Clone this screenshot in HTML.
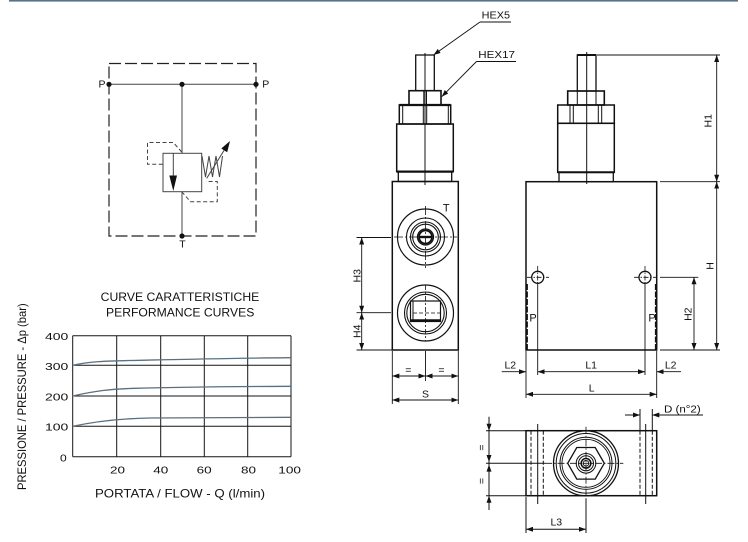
<!DOCTYPE html>
<html><head><meta charset="utf-8"><style>
html,body{margin:0;padding:0;background:#fff;}
svg{display:block;}
text{font-family:"Liberation Sans",sans-serif;fill:#111;}
</style></head><body>
<svg width="748" height="542" viewBox="0 0 748 542" xmlns="http://www.w3.org/2000/svg">
<defs>
<marker id="ar" viewBox="0 0 7 5" refX="7" refY="2.5" markerWidth="7" markerHeight="5" markerUnits="userSpaceOnUse" orient="auto-start-reverse"><path d="M0,0 L7,2.5 L0,5 z" fill="#111"/></marker>
</defs>
<rect x="9" y="0" width="729" height="1.6" fill="#5d7185"/>

<!-- Hydraulic symbol -->
<path d="M109,63.5 H256 V236 H109 Z" fill="none" stroke="#222" stroke-width="1.2" stroke-dasharray="12 4"/>
<g stroke="#444" stroke-width="1" fill="none">
<line x1="109" y1="84.3" x2="256" y2="84.3"/>
<line x1="182" y1="84.3" x2="182" y2="153.3"/>
<line x1="182" y1="191.7" x2="182" y2="236"/>
<rect x="163" y="153.3" width="38.7" height="38.4"/>
<line x1="173.3" y1="153.3" x2="173.3" y2="177"/>
<path d="M181.7,152 L173.3,142.5 H147.5 V164.3 H163" stroke-dasharray="4 2.5"/>
<path d="M181.7,191.7 L190.5,201.7 H217.3 V181.5 H206" stroke-dasharray="4 2.5"/>
<path d="M202,156 L205.5,177 L209,156 L212.5,177 L216,156 L219.5,177 L222.5,156"/>
<line x1="206.7" y1="178.3" x2="224.3" y2="150"/>
</g>
<polygon points="169.3,175.5 177,175.5 173.3,191" fill="#111"/>
<polygon points="230,141 227.2,152.3 221.3,148.5" fill="#111"/>
<g fill="#111">
<circle cx="109" cy="84.3" r="2.6"/><circle cx="182" cy="84.3" r="2.6"/><circle cx="256" cy="84.3" r="2.6"/><circle cx="182" cy="236" r="2.6"/>
</g>
<text x="102" y="87.5" font-size="10.5" text-anchor="middle">P</text>
<text x="265.7" y="87.5" font-size="10.5" text-anchor="middle">P</text>
<text x="182.5" y="247.5" font-size="10.5" text-anchor="middle">T</text>

<!-- Chart -->
<text x="100.7" y="301" font-size="12" textLength="158.6" lengthAdjust="spacingAndGlyphs">CURVE CARATTERISTICHE</text>
<text x="106" y="316.3" font-size="12" textLength="148.3" lengthAdjust="spacingAndGlyphs">PERFORMANCE CURVES</text>
<g stroke="#151515" stroke-width="1">
<line x1="72.7" y1="335.7" x2="72.7" y2="456.7"/>
<line x1="116.7" y1="335.7" x2="116.7" y2="456.7"/>
<line x1="160.7" y1="335.7" x2="160.7" y2="456.7"/>
<line x1="204.3" y1="335.7" x2="204.3" y2="456.7"/>
<line x1="247.7" y1="335.7" x2="247.7" y2="456.7"/>
<line x1="291" y1="335.7" x2="291" y2="456.7"/>
<line x1="72.7" y1="335.7" x2="291" y2="335.7"/>
<line x1="72.7" y1="365.3" x2="291" y2="365.3"/>
<line x1="72.7" y1="396" x2="291" y2="396"/>
<line x1="72.7" y1="426.3" x2="291" y2="426.3"/>
<line x1="72.7" y1="456.7" x2="291" y2="456.7"/>
</g>
<g stroke="#5a7080" stroke-width="1.3" fill="none">
<path d="M72.7,365.3 C90,361.5 105,361 130,360.5 S220,358.3 291,357.7"/>
<path d="M72.7,396 C95,391 110,389 135,388.3 S200,386.7 291,386.3"/>
<path d="M72.7,426.3 C95,421.5 120,418.5 150,418 S230,417.5 291,417.3"/>
</g>
<g font-size="10.5">
<text x="45" y="340" textLength="23.3" lengthAdjust="spacingAndGlyphs">400</text>
<text x="45" y="370" textLength="23.3" lengthAdjust="spacingAndGlyphs">300</text>
<text x="45" y="400.7" textLength="23.3" lengthAdjust="spacingAndGlyphs">200</text>
<text x="45" y="430.7" textLength="23.3" lengthAdjust="spacingAndGlyphs">100</text>
<text x="60" y="461.7" textLength="6.7" lengthAdjust="spacingAndGlyphs">0</text>
<text x="110" y="473.3" textLength="15" lengthAdjust="spacingAndGlyphs">20</text>
<text x="153.3" y="473.3" textLength="15" lengthAdjust="spacingAndGlyphs">40</text>
<text x="196.7" y="473.3" textLength="15" lengthAdjust="spacingAndGlyphs">60</text>
<text x="241" y="473.3" textLength="15" lengthAdjust="spacingAndGlyphs">80</text>
<text x="278.3" y="473.3" textLength="22.7" lengthAdjust="spacingAndGlyphs">100</text>
</g>
<text x="95" y="497.3" font-size="12" textLength="170" lengthAdjust="spacingAndGlyphs">PORTATA / FLOW - Q (l/min)</text>
<text transform="translate(26,490) rotate(-90)" x="0" y="0" font-size="12" textLength="186.7" lengthAdjust="spacingAndGlyphs">PRESSIONE / PRESSURE - Δp (bar)</text>

<!-- Front view -->
<g fill="none" stroke="#111" stroke-width="1.3">
<rect x="415.7" y="55" width="18.6" height="35.7"/>
<rect x="409" y="90.7" width="32" height="14.3" stroke-width="1.6"/>
<rect x="399.3" y="105" width="51.4" height="19" stroke-width="1.5"/>
<rect x="396.7" y="124" width="56.6" height="47.6" stroke-width="1.5"/>
<rect x="398.3" y="171.6" width="53.4" height="9.9"/>
<rect x="392.3" y="181.5" width="66" height="168.5" stroke-width="1.5"/>
<line x1="399.3" y1="105" x2="450.7" y2="105" stroke-width="2.2"/>
<line x1="396.7" y1="171.6" x2="453.3" y2="171.6" stroke-width="2.2"/>
</g>
<g stroke="#111" stroke-width="1">
<line x1="425" y1="53" x2="425" y2="185"/>
<line x1="423.8" y1="90.7" x2="423.8" y2="105"/><line x1="426.5" y1="90.7" x2="426.5" y2="105"/>
<line x1="402.7" y1="105" x2="402.7" y2="124"/><line x1="423.3" y1="105" x2="423.3" y2="124"/>
<line x1="426.7" y1="105" x2="426.7" y2="124"/><line x1="448.3" y1="105" x2="448.3" y2="124"/>
</g>
<!-- top port -->
<g fill="none" stroke="#111">
<circle cx="425.5" cy="237" r="28" stroke-width="1.2"/>
<circle cx="425.5" cy="237" r="19" stroke-width="1.1"/>
<circle cx="425.5" cy="237" r="15" stroke-width="1.1"/>
<circle cx="425.5" cy="237" r="12.8" stroke-width="1.1"/>
<circle cx="425.5" cy="237" r="8" stroke-width="1.3"/>
<circle cx="425.5" cy="237" r="6.5" stroke-width="1.8"/>
<line x1="418.5" y1="237" x2="432.5" y2="237" stroke-width="2.4"/>
<line x1="394" y1="237" x2="457" y2="237" stroke-width="0.8" stroke-dasharray="9 2 2 2"/>
<line x1="425.5" y1="206" x2="425.5" y2="268" stroke-width="0.8" stroke-dasharray="9 2 2 2"/>
</g>
<!-- bottom port -->
<g fill="none" stroke="#111">
<circle cx="425.5" cy="313" r="28" stroke-width="1.2"/>
<circle cx="425.5" cy="313" r="21" stroke-width="1.1"/>
<circle cx="425.5" cy="313" r="18.7" stroke-width="1.1"/>
<rect x="410.5" y="301" width="30" height="20.5" stroke-width="1.2"/>
<line x1="413" y1="301" x2="413" y2="321" stroke-width="1"/>
<line x1="410.5" y1="320.5" x2="440.5" y2="320.5" stroke-width="2.4"/>
<line x1="413" y1="313" x2="440" y2="313" stroke-width="0.8" stroke-dasharray="4 2"/>
<line x1="425.5" y1="285" x2="425.5" y2="341" stroke-width="0.8" stroke-dasharray="5 2 2 2"/>
</g>
<text x="446.3" y="211.7" font-size="11" text-anchor="middle">T</text>
<!-- front dims -->
<g stroke="#111" stroke-width="0.9" fill="none">
<line x1="356.5" y1="237.5" x2="391" y2="237.5"/>
<line x1="356.5" y1="312.7" x2="391" y2="312.7"/>
<line x1="356.5" y1="350" x2="392" y2="350"/>
<line x1="361.7" y1="237.5" x2="361.7" y2="312.7" marker-start="url(#ar)" marker-end="url(#ar)"/>
<line x1="361.7" y1="312.7" x2="361.7" y2="350" marker-start="url(#ar)" marker-end="url(#ar)"/>
<line x1="392.3" y1="351" x2="392.3" y2="404"/>
<line x1="458.3" y1="351" x2="458.3" y2="404"/>
<line x1="425.5" y1="351" x2="425.5" y2="381"/>
<line x1="392.3" y1="376" x2="425.5" y2="376" marker-start="url(#ar)" marker-end="url(#ar)"/>
<line x1="425.5" y1="376" x2="458.3" y2="376" marker-start="url(#ar)" marker-end="url(#ar)"/>
<line x1="392.3" y1="400" x2="458.3" y2="400" marker-start="url(#ar)" marker-end="url(#ar)"/>
</g>
<g font-size="10.5" text-anchor="middle">
<text transform="translate(360.7,275.8) rotate(-90)">H3</text>
<text transform="translate(360.7,331.3) rotate(-90)">H4</text>
<text x="408.3" y="373.5">=</text>
<text x="441.5" y="373.5">=</text>
<text x="425.5" y="397.3">S</text>
</g>
<!-- HEX labels -->
<text x="481.7" y="18.5" font-size="10" textLength="28.3" lengthAdjust="spacingAndGlyphs">HEX5</text>
<text x="478.3" y="58" font-size="10" textLength="36.7" lengthAdjust="spacingAndGlyphs">HEX17</text>
<g stroke="#111" stroke-width="0.9" fill="none">
<line x1="480" y1="22" x2="511" y2="22"/>
<line x1="480" y1="22" x2="433.5" y2="55" marker-end="url(#ar)"/>
<line x1="476.5" y1="61.5" x2="516" y2="61.5"/>
<line x1="476.5" y1="61.5" x2="441.7" y2="96.7" marker-end="url(#ar)"/>
</g>

<!-- Side view -->
<g fill="none" stroke="#111" stroke-width="1.3">
<rect x="577.3" y="55" width="18.7" height="36"/>
<rect x="567.7" y="91" width="36.6" height="14" stroke-width="1.6"/>
<rect x="557.7" y="105" width="56.6" height="18.3" stroke-width="1.5"/>
<rect x="557.7" y="123.3" width="56.6" height="49" stroke-width="1.5"/>
<rect x="559" y="172.3" width="54.3" height="9.4"/>
<rect x="526" y="181.7" width="130.7" height="168.3" stroke-width="1.5"/>
<line x1="557.7" y1="172.3" x2="614.3" y2="172.3" stroke-width="2"/>
<line x1="577.3" y1="55" x2="596" y2="55" stroke-width="2"/>
<circle cx="537.7" cy="277.3" r="6"/>
<circle cx="645" cy="277.3" r="6"/>
<line x1="527" y1="284" x2="527" y2="350" stroke-width="1.8" stroke-dasharray="6 1.5"/>
<line x1="655.8" y1="284" x2="655.8" y2="350" stroke-width="1.8" stroke-dasharray="6 1.5"/>
</g>
<g stroke="#111" stroke-width="1" fill="none">
<line x1="586.7" y1="52" x2="586.7" y2="184"/>
<line x1="577.3" y1="91" x2="577.3" y2="105"/><line x1="596" y1="91" x2="596" y2="105"/>
<line x1="570" y1="105" x2="570" y2="123.3"/><line x1="573.3" y1="105" x2="573.3" y2="123.3"/>
<line x1="598.3" y1="105" x2="598.3" y2="123.3"/><line x1="601.7" y1="105" x2="601.7" y2="123.3"/>
<g stroke-width="0.8" stroke-dasharray="5 1.5 1.5 1.5">
<line x1="527" y1="277.3" x2="549" y2="277.3"/><line x1="537.7" y1="266" x2="537.7" y2="284"/>
<line x1="634" y1="277.3" x2="656" y2="277.3"/><line x1="645" y1="266" x2="645" y2="284"/>
</g>
<line x1="537.7" y1="284" x2="537.7" y2="375" stroke-width="0.9"/>
<line x1="645" y1="284" x2="645" y2="375" stroke-width="0.9"/>
</g>
<g stroke="#111" stroke-width="0.9" fill="none">
<line x1="597" y1="55" x2="720" y2="55"/>
<line x1="660" y1="181.7" x2="720" y2="181.7"/>
<line x1="660" y1="277.3" x2="698.3" y2="277.3"/>
<line x1="660" y1="350" x2="720" y2="350"/>
<line x1="716.7" y1="55" x2="716.7" y2="181.7" marker-start="url(#ar)" marker-end="url(#ar)"/>
<line x1="716.7" y1="181.7" x2="716.7" y2="350" marker-start="url(#ar)" marker-end="url(#ar)"/>
<line x1="694" y1="277.3" x2="694" y2="350" marker-start="url(#ar)" marker-end="url(#ar)"/>
<line x1="526" y1="351" x2="526" y2="398"/>
<line x1="656.7" y1="351" x2="656.7" y2="398"/>
<line x1="537.7" y1="371.7" x2="645" y2="371.7" marker-start="url(#ar)" marker-end="url(#ar)"/>
<line x1="501.7" y1="371.7" x2="526" y2="371.7" marker-end="url(#ar)"/>
<line x1="681" y1="371.7" x2="656.7" y2="371.7" marker-end="url(#ar)"/>
<line x1="526" y1="394.3" x2="656.7" y2="394.3" marker-start="url(#ar)" marker-end="url(#ar)"/>
</g>
<g font-size="10.5" text-anchor="middle">
<text transform="translate(711.7,120.8) rotate(-90)">H1</text>
<text transform="translate(713.3,266) rotate(-90)">H</text>
<text transform="translate(691.7,314.2) rotate(-90)">H2</text>
<text x="533" y="321.7" font-size="11">P</text>
<text x="652" y="321.7" font-size="11">P</text>
<text x="510.3" y="368.3">L2</text>
<text x="591.2" y="368.3">L1</text>
<text x="670.7" y="368.3">L2</text>
<text x="591.7" y="391.7">L</text>
</g>

<!-- Bottom view -->
<g fill="none" stroke="#111" stroke-width="1.3">
<rect x="526" y="430.7" width="130.7" height="65" stroke-width="1.5"/>
<circle cx="586" cy="463.3" r="32.5"/>
<circle cx="586" cy="463.3" r="29.8" stroke-width="1"/>
<circle cx="586" cy="463.3" r="26" stroke-width="1"/>
<circle cx="586" cy="463.3" r="24" stroke-width="0.9"/>
<polygon points="567.7,463.3 576.8,447.5 595.2,447.5 604.3,463.3 595.2,479.1 576.8,479.1" stroke-width="1.3"/>
<circle cx="586" cy="463.3" r="9.8" stroke-width="1"/>
<circle cx="586" cy="463.3" r="7.5" stroke-width="1"/>
<circle cx="586" cy="463.3" r="4.8" stroke-width="1.6"/>
<circle cx="586" cy="463.3" r="2.8" stroke-width="0.9"/>
</g>
<g stroke="#111" stroke-width="1" fill="none">
<g stroke-dasharray="4 2">
<line x1="531" y1="430.7" x2="531" y2="495.7"/>
<line x1="543.3" y1="430.7" x2="543.3" y2="495.7"/>
<line x1="640" y1="430.7" x2="640" y2="495.7"/>
<line x1="652.3" y1="430.7" x2="652.3" y2="495.7"/>
</g>
<line x1="537.7" y1="424" x2="537.7" y2="504"/>
<line x1="645.7" y1="424" x2="645.7" y2="504"/>
<line x1="640" y1="409" x2="640" y2="430.7"/>
<line x1="652.3" y1="409" x2="652.3" y2="430.7"/>
<g stroke-width="0.8" stroke-dasharray="7 2 1.5 2">
<line x1="545" y1="463.3" x2="623.3" y2="463.3"/>
<line x1="586" y1="426.7" x2="586" y2="498.3"/>
</g>
<line x1="586" y1="498.3" x2="586" y2="533"/>
<line x1="526" y1="497" x2="526" y2="533"/>
<line x1="486" y1="430.7" x2="526" y2="430.7"/>
<line x1="486" y1="463.3" x2="545" y2="463.3"/>
<line x1="486" y1="495.7" x2="526" y2="495.7"/>
<line x1="489" y1="416.7" x2="489" y2="510"/>
<line x1="625" y1="415" x2="640" y2="415" marker-end="url(#ar)"/>
<line x1="703" y1="415" x2="652.3" y2="415" marker-end="url(#ar)"/>
<line x1="526" y1="529.3" x2="586" y2="529.3" marker-start="url(#ar)" marker-end="url(#ar)"/>
</g>
<g fill="#111">
<polygon points="489,430.7 486.5,423.7 491.5,423.7"/>
<polygon points="489,462 486.5,455 491.5,455"/>
<polygon points="489,464.6 486.5,471.6 491.5,471.6"/>
<polygon points="489,495.7 486.5,502.7 491.5,502.7"/>
</g>
<g font-size="10.5" text-anchor="middle">
<text transform="translate(485,447.5) rotate(-90)">=</text>
<text transform="translate(485,481) rotate(-90)">=</text>
<text x="556.3" y="525.7">L3</text>
</g>
<text x="664" y="412.5" font-size="10.5" textLength="36.7" lengthAdjust="spacingAndGlyphs">D (n°2)</text>
</svg>
</body></html>
